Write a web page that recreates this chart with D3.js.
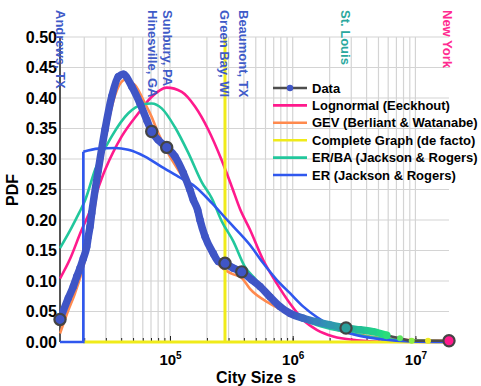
<!DOCTYPE html>
<html><head><meta charset="utf-8">
<script src="https://cdn.jsdelivr.net/npm/d3@7/dist/d3.min.js"></script>
<style>
body{margin:0;background:#fff}
text{font-family:"Liberation Sans",Arial,Helvetica,sans-serif;font-weight:bold}
</style>
</head><body>
<svg id="c" width="481" height="386"></svg>
<script>
// ---------- data ----------
const dataSizes = [12690,14830,16290,17360,18470,19660,20950,21590,22280,23010,26040,29530,33490,37900,41630,48740,56940,64580,70940,80290,94000,109800,128400,145550,154800,168200,175600,192900,225400,247500,280600,328100,384100,463400,541500,653100,787900,950600,1220000,1569000,2014000,2719000,3536000,4512000,5836000,7489000,9329000,12670000,18780000];
const dataPdf   = [0.037,0.072,0.091,0.107,0.121,0.137,0.156,0.173,0.189,0.211,0.282,0.348,0.402,0.435,0.439,0.419,0.391,0.364,0.345,0.331,0.319,0.304,0.277,0.249,0.233,0.216,0.200,0.173,0.145,0.132,0.129,0.121,0.115,0.102,0.091,0.074,0.058,0.047,0.039,0.033,0.028,0.023,0.020,0.017,0.011,0.006,0.002,0.002,0.002];

const lognSizes = [12690,15310,19070,21590,29530,40400,55150,70940,94000,124600,159800,205200,263800,318400,372000,448800,576100,740600,950600,1220000,1569000,2142000,3323000,5475000,18780000];
const lognPdf   = [0.104,0.136,0.184,0.208,0.282,0.337,0.375,0.402,0.417,0.410,0.386,0.348,0.298,0.255,0.218,0.184,0.134,0.096,0.063,0.036,0.020,0.009,0.003,0.0005,0];

const gevSizes = [12690,14830,16820,20290,23010,26040,29530,33490,37900,42990,51850,62560,70940,80290,96850,116800,141000,165100,192900,225400,263800,318400,384100,448800,653100,950600,1569000,2585000,4266000,7489000,18780000];
const gevPdf   = [0.014,0.052,0.080,0.135,0.190,0.260,0.330,0.385,0.418,0.430,0.421,0.391,0.369,0.342,0.309,0.282,0.255,0.218,0.168,0.138,0.122,0.112,0.105,0.087,0.063,0.047,0.031,0.017,0.009,0.004,0.002];

const completeSizes = [19660,280600,280600,280600,18780000];
const completePdf   = [0,0,0.5,0,0];

const erbaSizes = [12690,15810,18200,20290,24480,33490,45720,58790,70940,85580,109800,141000,181300,218700,263800,328100,408600,492900,653100,950600,1569000,2585000,4266000,7489000,18780000];
const erbaPdf   = [0.154,0.188,0.212,0.232,0.282,0.337,0.375,0.389,0.391,0.383,0.352,0.310,0.262,0.236,0.198,0.165,0.123,0.104,0.074,0.047,0.028,0.017,0.008,0.003,0.001];

const erStepSizes = [12690,19660,19660];
const erStepPdf   = [0,0,0.312];
const erSizes = [19660,26040,35620,45720,62560,85580,116800,159800,218700,298600,448800,576100,740600,950600,1220000,1569000,2142000,3323000,5475000,9036000,18780000];
const erPdf   = [0.312,0.317,0.318,0.315,0.304,0.287,0.271,0.255,0.228,0.198,0.159,0.129,0.102,0.080,0.058,0.041,0.025,0.011,0.004,0.001,0];

const cityNames = ["Andrews, TX","Hinesville, GA","Sunbury, PA","Green Bay, WI","Beaumont, TX","St. Louis","New York"];
const citySizes = [12690,70940,94000,280600,384100,2719000,18780000];
const cityPdf   = [0.037,0.345,0.319,0.129,0.115,0.023,0.002];
const cityLabelSizes = [12690,72000,95000,276000,395000,2680000,18400000];

const yTicks = [0,0.05,0.10,0.15,0.20,0.25,0.30,0.35,0.40,0.45,0.50];
const xMajor = [1e5,1e6,1e7];
const legendLabels = ["Data","Lognormal (Eeckhout)","GEV (Berliant & Watanabe)","Complete Graph (de facto)","ER/BA (Jackson & Rogers)","ER (Jackson & Rogers)"];

// ---------- styles ----------
const C = {pink:"#FF1A8C", orange:"#FF8A4E", yellow:"#F0EB1A", teal:"#22C79C", er:"#2F57EE",
           data:"#3F55C6", gray:"#4d4d4d", grid:"#d4d4d4", label:"#3F5BC8"};
const cityFill = [C.data,C.data,C.data,C.data,C.data,"#2A9E9B","#FF1A8C"];
const cityLabelColor = [C.label,C.label,C.label,C.label,C.label,"#2BA89E","#FF2A90"];
const bandStopSizes = [12690,950600,1300000,1800000,2719000,3700000,5600000,9329000,12670000,18780000];
const bandStopColors = ["#3F55C6","#3F55C6","#3B6FC0","#3390B6","#27A8A0","#22C294","#22DC80","#8CEE44","#EEEC22","#FF1A8C"];

const svg = d3.select("#c");
const L = 60, R = 449, T = 37, B = 342;
const x = d3.scaleLog().domain([12690, 18780000]).range([L, R]);
const y = d3.scaleLinear().domain([0, 0.5]).range([B, T]);

// grid
const gridX = [];
for (let e = 4; e <= 7; e++) for (let k = 1; k <= 9; k++) { const v = k * Math.pow(10, e); if (v >= 12690 && v <= 18780000) gridX.push(v); }
svg.append("g").selectAll("line").data(gridX).join("line")
  .attr("x1", d => x(d)).attr("x2", d => x(d)).attr("y1", T).attr("y2", B)
  .attr("stroke", C.grid).attr("stroke-width", 1.2);
svg.append("g").selectAll("line").data(yTicks).join("line")
  .attr("x1", L).attr("x2", R).attr("y1", d => y(d)).attr("y2", d => y(d))
  .attr("stroke", C.grid).attr("stroke-width", 1.2);

// minor ticks along bottom
const minorAx = svg.append("g").attr("transform", `translate(0,${B})`)
  .call(d3.axisBottom(x).tickValues(gridX).tickSizeInner(-4).tickSizeOuter(0).tickFormat(""));
minorAx.select(".domain").remove();
minorAx.selectAll("line").attr("stroke", "#222").attr("stroke-width", 1);

// y axis
const yAx = svg.append("g").attr("transform", `translate(${L},0)`)
  .call(d3.axisLeft(y).tickValues(yTicks).tickSize(0).tickPadding(3).tickFormat(d3.format(".2f")));
yAx.select(".domain").remove();
yAx.selectAll("text").attr("font-size", 16).attr("fill", "#000");

// x axis major labels
const xAx = svg.append("g").attr("transform", `translate(0,${B})`)
  .call(d3.axisBottom(x).tickValues(xMajor).tickSizeInner(-6).tickSizeOuter(0).tickPadding(12));
xAx.select(".domain").remove();
xAx.selectAll("line").attr("stroke", "#222");
xAx.selectAll("text").each(function(d) {
  const t = d3.select(this).text(null).attr("font-size", 15).attr("fill", "#000").attr("dy", "0.71em");
  t.append("tspan").text("10");
  t.append("tspan").attr("font-size", 10).attr("dy", "-0.6em").text(Math.round(Math.log10(d)));
});

// axis lines
svg.append("line").attr("x1", L).attr("x2", L).attr("y1", T).attr("y2", B).attr("stroke", "#555").attr("stroke-width", 2);
svg.append("line").attr("x1", L).attr("x2", R).attr("y1", B).attr("y2", B).attr("stroke", "#555").attr("stroke-width", 2);

const zip = (a, b) => a.map((v, i) => [v, b[i]]);
const lineM = d3.line().x(d => x(d[0])).y(d => y(d[1])).curve(d3.curveMonotoneX);
const lineL = d3.line().x(d => x(d[0])).y(d => y(d[1]));

svg.append("clipPath").attr("id", "pa").append("rect").attr("x", L - 1).attr("y", T - 2).attr("width", R - L + 3).attr("height", B - T + 6);
const plot = svg.append("g").attr("clip-path", "url(#pa)");

// model curves
plot.append("path").attr("d", lineM(zip(lognSizes, lognPdf))).attr("fill", "none").attr("stroke", C.pink).attr("stroke-width", 2.6);
plot.append("path").attr("d", lineM(zip(gevSizes, gevPdf))).attr("fill", "none").attr("stroke", C.orange).attr("stroke-width", 2.6);
plot.append("path").attr("d", lineL(zip(completeSizes, completePdf))).attr("fill", "none").attr("stroke", C.yellow).attr("stroke-width", 3);
plot.append("path").attr("d", lineM(zip(erbaSizes, erbaPdf))).attr("fill", "none").attr("stroke", C.teal).attr("stroke-width", 2.6);
plot.append("path").attr("d", lineL(zip(erStepSizes, erStepPdf))).attr("fill", "none").attr("stroke", C.er).attr("stroke-width", 2.6);
plot.append("path").attr("d", lineM(zip(erSizes, erPdf))).attr("fill", "none").attr("stroke", C.er).attr("stroke-width", 2.6);

// data
const dataPts = zip(dataSizes, dataPdf);
const bandColor = d3.scaleLinear().domain(bandStopSizes.map(v => x(v))).range(bandStopColors).clamp(true);
const grad = svg.append("defs").append("linearGradient").attr("id", "band").attr("gradientUnits", "userSpaceOnUse")
  .attr("x1", L).attr("x2", R).attr("y1", 0).attr("y2", 0);
grad.selectAll("stop").data(bandStopSizes).join("stop")
  .attr("offset", d => (x(d) - L) / (R - L)).attr("stop-color", (d, i) => bandStopColors[i]);

plot.append("path").attr("d", lineM(dataPts)).attr("fill", "none").attr("stroke", C.gray).attr("stroke-width", 2.5);
const bandPts = dataPts.filter(d => d[0] <= 5836000);
plot.append("path").attr("d", lineM(bandPts)).attr("fill", "none").attr("stroke", "url(#band)")
  .attr("stroke-width", 7.5).attr("stroke-linecap", "round").attr("stroke-linejoin", "round");
plot.append("g").selectAll("circle").data(dataPts).join("circle")
  .attr("cx", d => x(d[0])).attr("cy", d => y(d[1])).attr("r", d => d[0] <= 5836000 ? 3.7 : 3)
  .attr("fill", d => bandColor(x(d[0])));

// highlighted cities
svg.append("g").selectAll("circle").data(citySizes).join("circle")
  .attr("cx", d => x(d)).attr("cy", (d, i) => y(cityPdf[i])).attr("r", 5.6)
  .attr("fill", (d, i) => cityFill[i]).attr("stroke", "#444").attr("stroke-width", 2.2);

// city labels
svg.append("g").selectAll("text").data(cityNames).join("text")
  .attr("transform", (d, i) => `translate(${x(cityLabelSizes[i])},10) rotate(90)`)
  .attr("dominant-baseline", "central").attr("font-size", 13)
  .attr("fill", (d, i) => cityLabelColor[i]).text(d => d);

// legend
const legColors = [C.gray, C.pink, C.orange, C.yellow, C.teal, C.er];
const lg = svg.append("g");
legendLabels.forEach((lab, i) => {
  const yy = 88 + i * 17.4;
  lg.append("line").attr("x1", 273).attr("x2", 307).attr("y1", yy).attr("y2", yy)
    .attr("stroke", legColors[i]).attr("stroke-width", 2.6);
  if (i === 0) lg.append("circle").attr("cx", 290).attr("cy", yy).attr("r", 3.2).attr("fill", C.data);
  lg.append("text").attr("x", 312).attr("y", yy).attr("dominant-baseline", "central")
    .attr("font-size", 13).attr("fill", "#000").text(lab);
});

// titles
svg.append("text").attr("x", 256).attr("y", 383).attr("text-anchor", "middle").attr("font-size", 16).text("City Size s");
svg.append("text").attr("transform", "translate(12,190) rotate(-90)").attr("text-anchor", "middle")
  .attr("dominant-baseline", "central").attr("font-size", 16).text("PDF");
</script>
</body></html>
